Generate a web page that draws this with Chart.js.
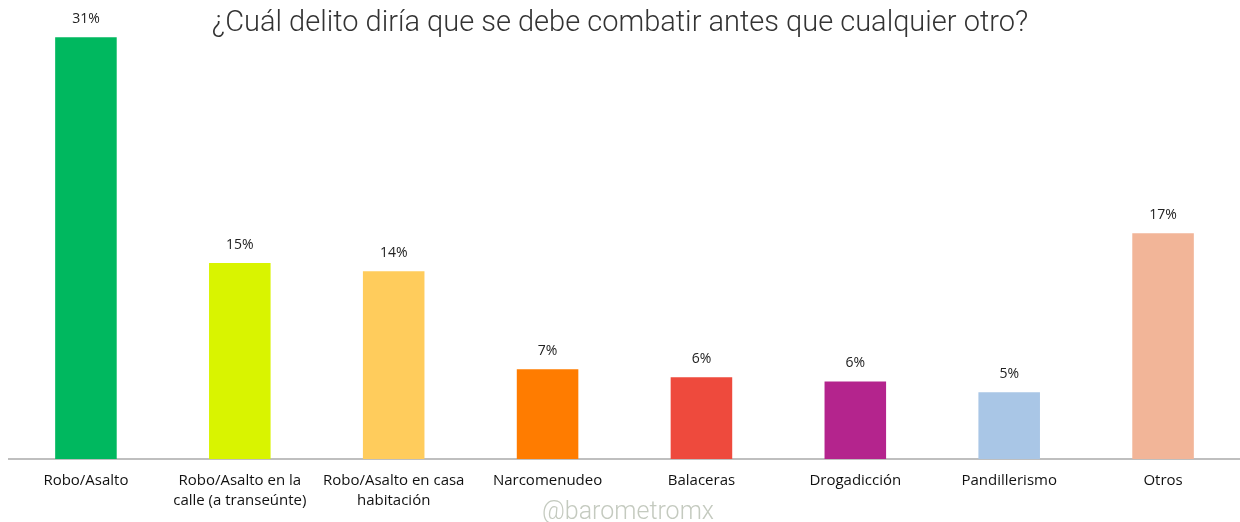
<!DOCTYPE html>
<html>
<head>
<meta charset="utf-8">
<script src="https://cdn.jsdelivr.net/npm/chart.js@4.4.0/dist/chart.umd.min.js"></script>
<style>
  body { margin: 0; background: #fff; }
  #wrap { position: relative; width: 1240px; height: 522px; }
  #title { position: absolute; left: 0; width: 1240px; top: 4px; text-align: center;
    font-family: Roboto, "Liberation Sans", sans-serif; font-weight: 300; font-size: 29px; color: #333; }
  #mark { position: absolute; left: 0; width: 1240px; top: 496px; text-align: center;
    font-family: Roboto, "Liberation Sans", sans-serif; font-weight: 300; font-size: 25px; color: #c4cabf; padding-left: 8px; }
</style>
</head>
<body>
<div id="wrap">
  <canvas id="c" width="1240" height="522"></canvas>
  <div id="title">¿Cuál delito diría que se debe combatir antes que cualquier otro?</div>
  <div id="mark">@barometromx</div>
</div>
<script>
// categories and values
var categorias = ['Robo/Asalto', ['Robo/Asalto en la', 'calle (a transeúnte)'], ['Robo/Asalto en casa', 'habitación'],
  'Narcomenudeo', 'Balaceras', 'Drogadicción', 'Pandillerismo', 'Otros'];
var valores = [31, 14.4, 13.8, 6.6, 6.0, 5.7, 4.9, 16.6];
var etiquetas = ['31%', '15%', '14%', '7%', '6%', '6%', '5%', '17%'];
var colores = ['#00b85f', '#d9f400', '#ffcc5c', '#ff7c00', '#ee4a3d', '#b4248d', '#a9c6e6', '#f2b598'];

var labelPlugin = {
  id: 'barLabels',
  afterDatasetsDraw: function(chart) {
    var ctx = chart.ctx;
    var meta = chart.getDatasetMeta(0);
    ctx.save();
    ctx.font = '14px "Open Sans", sans-serif';
    ctx.fillStyle = '#222';
    ctx.textAlign = 'center';
    ctx.textBaseline = 'middle';
    meta.data.forEach(function(bar, i) {
      ctx.fillText(etiquetas[i], bar.x, bar.y - 18);
    });
    ctx.restore();
  }
};

var ctx = document.getElementById('c').getContext('2d');
var chart = new Chart(ctx, {
  type: 'bar',
  data: {
    labels: categorias,
    datasets: [{
      data: valores,
      backgroundColor: colores,
      categoryPercentage: 1,
      barPercentage: 0.4
    }]
  },
  options: {
    responsive: false,
    animation: false,
    layout: { padding: { top: 10, left: 9, right: -2, bottom: 0 } },
    plugins: { legend: { display: false }, tooltip: { enabled: false } },
    scales: {
      x: {
        grid: { display: false, drawTicks: false },
        border: { color: '#bfbfbf', width: 2 },
        ticks: { color: '#111', font: { family: '"Open Sans", sans-serif', size: 15, lineHeight: 1.3 }, padding: 12, maxRotation: 0, autoSkip: false }
      },
      y: { display: false, min: 0, max: 33 }
    }
  },
  plugins: [labelPlugin]
});
</script>
</body>
</html>
